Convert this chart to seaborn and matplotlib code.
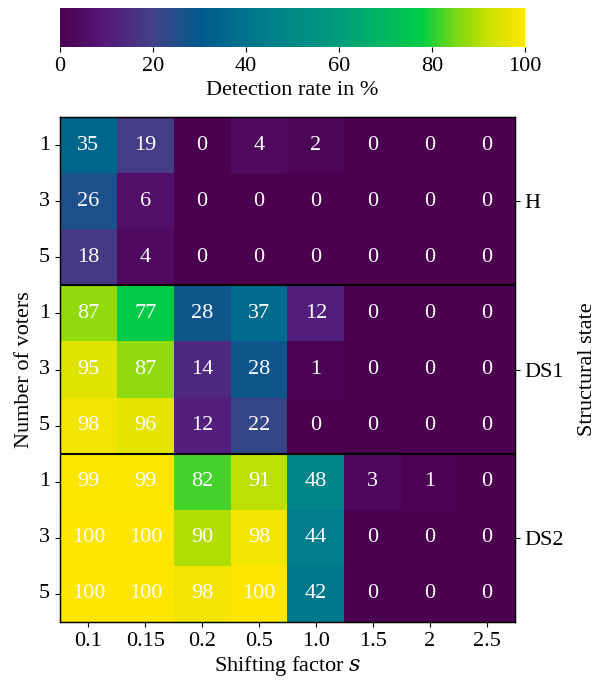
import numpy as np
import pandas as pd
import matplotlib
matplotlib.use('Agg')
import matplotlib.pyplot as plt
from matplotlib.colors import LinearSegmentedColormap
import seaborn as sns

# detection rates (%) per structural state, voters x shifting factor
shift_factors = ['0.1', '0.15', '0.2', '0.5', '1.0', '1.5', '2', '2.5']
voters = ['1', '3', '5']
states = ['H', 'DS1', 'DS2']

rate_H = [[35, 19, 0, 4, 2, 0, 0, 0],
          [26, 6, 0, 0, 0, 0, 0, 0],
          [18, 4, 0, 0, 0, 0, 0, 0]]
rate_DS1 = [[87, 77, 28, 37, 12, 0, 0, 0],
            [95, 87, 14, 28, 1, 0, 0, 0],
            [98, 96, 12, 22, 0, 0, 0, 0]]
rate_DS2 = [[99, 99, 82, 91, 48, 3, 1, 0],
            [100, 100, 90, 98, 44, 0, 0, 0],
            [100, 100, 98, 100, 42, 0, 0, 0]]

data = pd.DataFrame(np.vstack([rate_H, rate_DS1, rate_DS2]),
                    columns=shift_factors,
                    index=[f'{s}_{v}' for s in states for v in voters])

# colour map picked off the reference colourbar
cmap = LinearSegmentedColormap.from_list('detect', [
    (0.00, '#4b0050'), (0.10, '#55197a'), (0.20, '#424186'),
    (0.30, '#005a8c'), (0.45, '#00808c'), (0.60, '#009b7d'),
    (0.78, '#00cd46'), (0.85, '#78d714'), (0.92, '#c8e100'),
    (1.00, '#ffe600')])

plt.rcParams['font.family'] = ['Liberation Serif', 'DejaVu Serif']
plt.rcParams['mathtext.fontset'] = 'dejavuserif'
plt.rcParams['font.size'] = 16

fig = plt.figure(figsize=(6.02, 6.84), dpi=100)
ax = fig.add_axes([0.0997, 0.0906, 0.7557, 0.7383])
cax = fig.add_axes([0.0997, 0.931, 0.7724, 0.058])

sns.heatmap(data, ax=ax, cmap=cmap, vmin=0, vmax=100, annot=True, fmt='d',
            annot_kws={'color': 'white', 'fontsize': 16},
            cbar_ax=cax, cbar_kws={'orientation': 'horizontal'})

ax.set_yticklabels(voters * 3, rotation=0)
ax.set_xticklabels(shift_factors, rotation=0)
ax.set_ylabel('Number of voters')
ax.set_xlabel('Shifting factor $s$', labelpad=2)
ax.tick_params(labelsize=16)
for y in [3, 6]:
    ax.axhline(y, color='black', linewidth=1.5)
for side in ax.spines.values():
    side.set_visible(True)
    side.set_linewidth(1)

ax2 = ax.twinx()
ax2.set_ylim(ax.get_ylim())
ax2.set_yticks([1.5, 4.5, 7.5])
ax2.set_yticklabels(states, fontsize=16)
ax2.set_ylabel('Structural state', labelpad=10)

cax.set_xlabel('Detection rate in %')
cax.set_xticks([0, 20, 40, 60, 80, 100])
cax.tick_params(labelsize=16)

fig.savefig('out.png', dpi=100)
